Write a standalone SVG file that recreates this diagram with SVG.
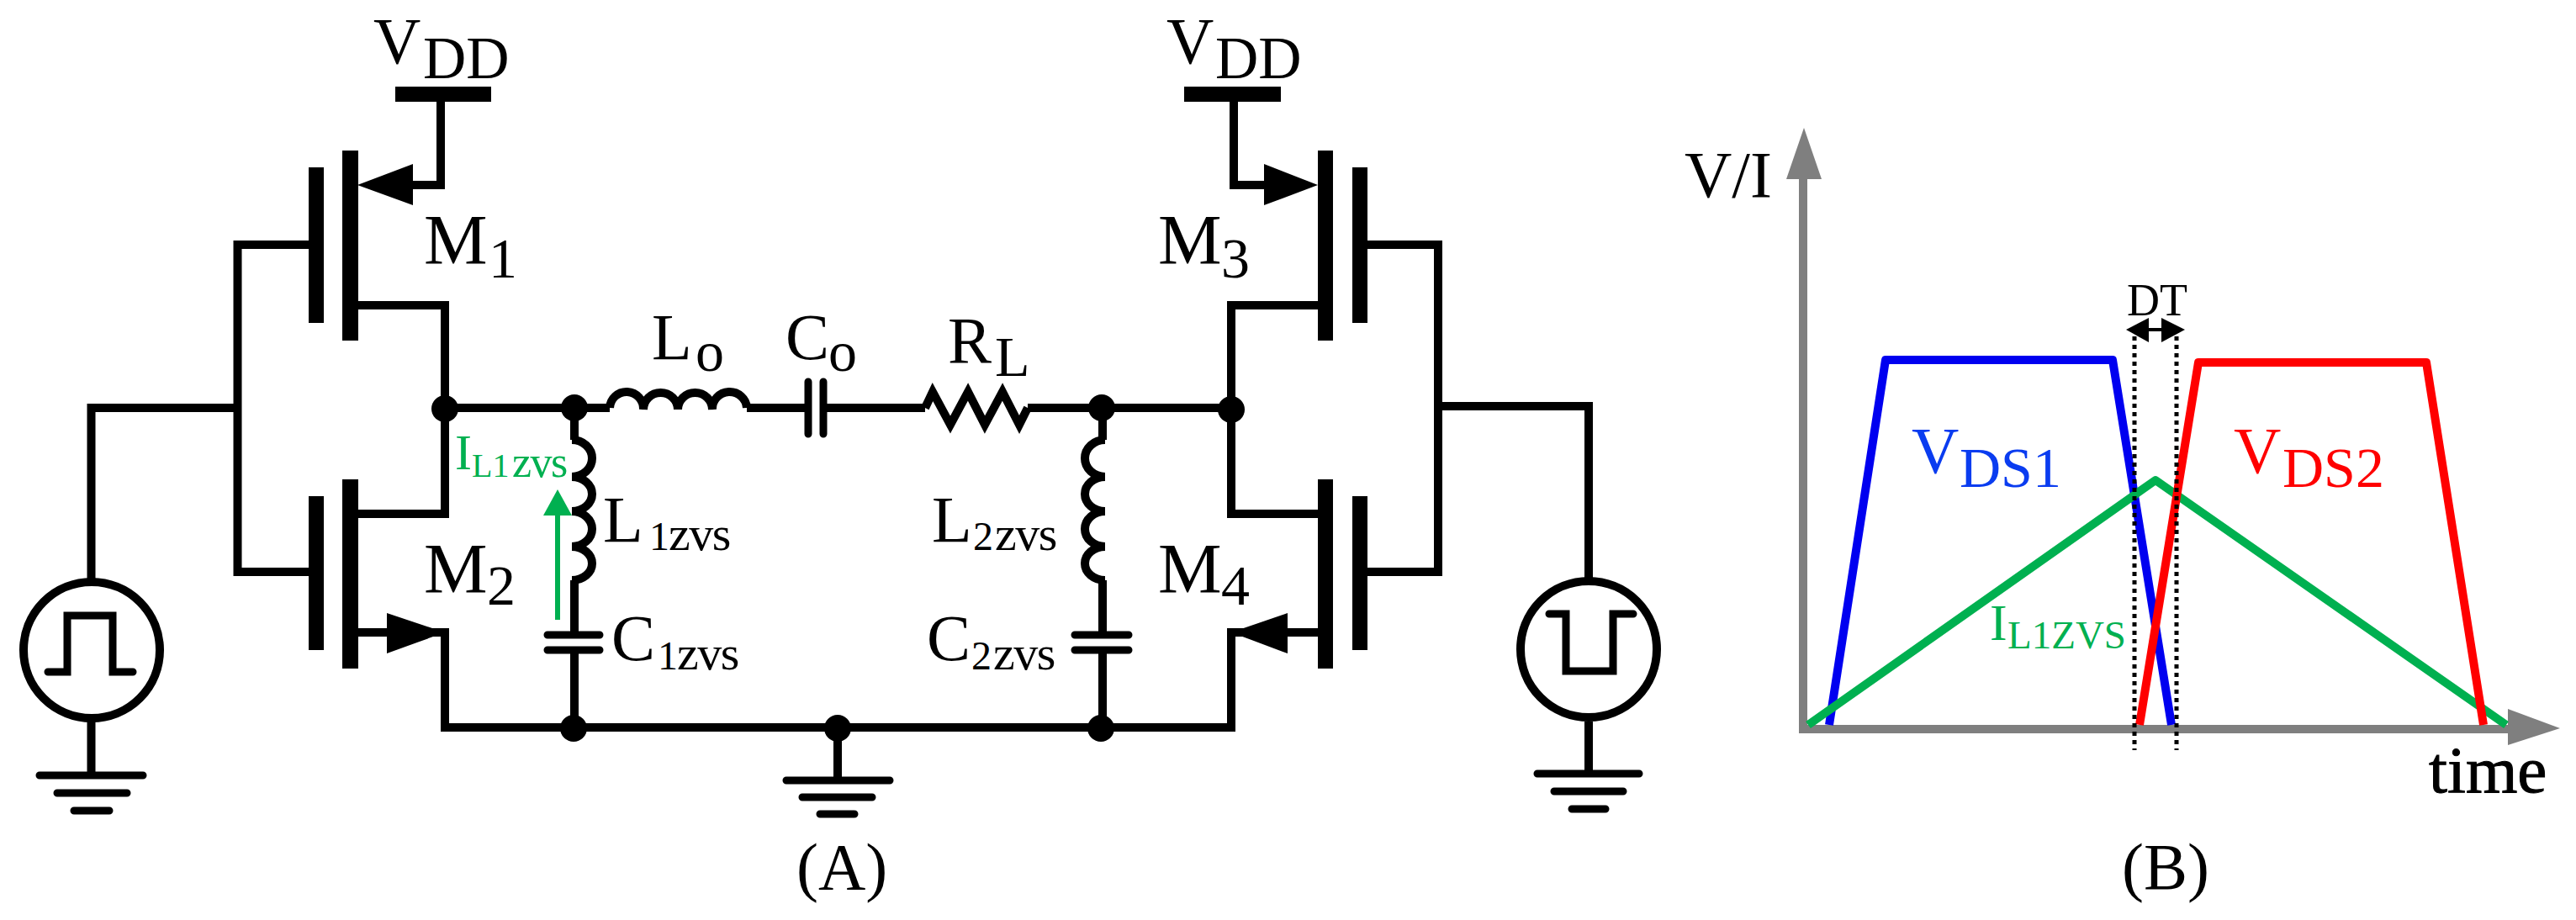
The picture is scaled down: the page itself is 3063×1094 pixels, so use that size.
<svg xmlns="http://www.w3.org/2000/svg" width="3063" height="1094" viewBox="0 0 3063 1094">
<style>
text{font-family:"Liberation Serif","Times New Roman",serif;fill:#000}
.w{fill:none;stroke:#000;stroke-width:10;stroke-linejoin:miter}
.g{fill:none;stroke:#000;stroke-width:9;stroke-linecap:round}
.c{fill:none;stroke:#000;stroke-width:9;stroke-linecap:round}
.k{fill:#000}
.t{font-size:78px}
.m{font-size:85px}
.s{font-size:68px}
.d{font-size:48px}
.z{font-size:58px;letter-spacing:-1.500px}
.gt{fill:#00b050}
.ax{fill:#7f7f7f}
.axl{fill:none;stroke:#7f7f7f;stroke-width:10}
.tr{fill:none;stroke-width:10;stroke-linejoin:round}
.dot{fill:none;stroke:#000;stroke-width:5;stroke-dasharray:5 5}
.gr{fill:#00b050}
</style>
<rect width="3063" height="1094" fill="#fff"/>
<g id="connectors">
<path class="w" d="M282.500 291H367M282.500 680H367M282.500 286V685M108.500 692V485H282.500"/>
<path class="w" d="M524 121V220H490"/>
<path class="w" d="M425 363H529V611H425"/>
<path class="w" d="M425 752H529V865H1464V752H1567"/>
<path class="w" d="M529 485H725"/>
<path class="w" d="M888 485H961M979 485H1100"/>
<path class="w" d="M1222 485H1464"/>
<path class="w" d="M683 485V523M683 690V755M683 773V865"/>
<path class="w" d="M1311 485V523M1311 690V755M1311 773V865"/>
<path class="w" d="M1567 363H1464V611H1567"/>
<path class="w" d="M1467 121V220H1503"/>
<path class="w" d="M1626 291H1710V685M1626 680H1710M1710 483H1889V691"/>
<path class="w" d="M108.500 858V922M996 865V928M1889 858V920"/>
</g>
<g id="M1">
<rect class="k" x="407" y="179" width="19" height="226"/><rect class="k" x="367" y="199" width="18" height="185"/>
<polygon class="k" points="425,220 491,195 491,244"/>
<text x="504" y="314" class="m">M<tspan x="581" y="330" class="s">1</tspan></text>
</g>
<g id="M2">
<rect class="k" x="407" y="570" width="19" height="225"/><rect class="k" x="367" y="590" width="18" height="183"/>
<polygon class="k" points="529,752 460,729 460,777"/>
<text x="504" y="705" class="m">M<tspan x="579" y="719" class="s">2</tspan></text>
</g>
<g id="M3">
<rect class="k" x="1567" y="179" width="18" height="226"/><rect class="k" x="1608" y="199" width="18" height="185"/>
<polygon class="k" points="1567,220 1503,195 1503,244"/>
<text x="1377" y="314" class="m">M<tspan x="1452" y="330" class="s">3</tspan></text>
</g>
<g id="M4">
<rect class="k" x="1567" y="570" width="18" height="225"/><rect class="k" x="1608" y="590" width="18" height="183"/>
<polygon class="k" points="1464,752 1531,729 1531,777"/>
<text x="1377" y="705" class="m">M<tspan x="1452" y="719" class="s">4</tspan></text>
</g>
<g id="VDD1">
<rect class="k" x="470" y="103" width="114" height="18"/>
<text x="444" y="75" class="t">V<tspan x="503" y="93" style="font-size:71px">DD</tspan></text>
</g>
<g id="VDD2">
<rect class="k" x="1408" y="103" width="115" height="18"/>
<text x="1387" y="75" class="t">V<tspan x="1445" y="93" style="font-size:71px">DD</tspan></text>
</g>
<g id="source1">
<circle class="w" cx="109" cy="773" r="81"/>
<path class="c" d="M57 799H80V732H134V799H158"/>
</g>
<g id="source2">
<circle class="w" cx="1889" cy="772" r="81"/>
<path class="c" d="M1842 730H1862V798H1918V730H1942"/>
</g>
<g id="gnd1"><path class="g" d="M47 922H170M68 943H151M88 964H130"/></g>
<g id="gnd2"><path class="g" d="M935 928H1058M954 948H1037M975 968H1016"/></g>
<g id="gnd3"><path class="g" d="M1828 920H1949M1848 941H1930M1869 962H1909"/></g>
<g id="Lo">
<path class="w" d="M725 485A20 20 0 0 1 765 487A20.500 20 0 0 1 806 487A20.500 20 0 0 1 847 487A20.500 20 0 0 1 888 485"/>
<text x="775" y="427" class="t">L<tspan x="827" y="441" class="s">o</tspan></text>
</g>
<g id="Co">
<path class="c" d="M961 454V516M979 454V516"/>
<text x="934" y="427" class="t">C<tspan x="985" y="441" class="s">o</tspan></text>
</g>
<g id="RL">
<path class="w" d="M1100 485L1109 466L1130 505L1151 466L1171 505L1192 466L1212 505L1222 485"/>
<text x="1127" y="431" class="t">R<tspan x="1183" y="447" class="s">L</tspan></text>
</g>
<g id="L1zvs">
<path class="w" d="M680 523A24 22 0 0 1 680 567A24 20.500 0 0 1 680 608A24 21 0 0 1 680 650A24 20 0 0 1 680 690"/>
<text x="717" y="644" class="t">L<tspan x="772" y="654" class="d">1</tspan><tspan x="795" y="654" class="z">zvs</tspan></text>
</g>
<g id="C1zvs">
<path class="c" d="M651 755H713M651 773H713"/>
<text x="727" y="785" class="t">C<tspan x="782" y="796" class="d">1</tspan><tspan x="805" y="796" class="z">zvs</tspan></text>
</g>
<g id="L2zvs">
<path class="w" d="M1314 523A24 22 0 0 0 1314 567A24 20.500 0 0 0 1314 608A24 21 0 0 0 1314 650A24 20 0 0 0 1314 690"/>
<text x="1108" y="644" class="t">L<tspan x="1157" y="654" class="d">2</tspan><tspan x="1183" y="654" class="z">zvs</tspan></text>
</g>
<g id="C2zvs">
<path class="c" d="M1278 755H1342M1278 773H1342"/>
<text x="1102" y="785" class="t">C<tspan x="1155" y="796" class="d">2</tspan><tspan x="1181" y="796" class="z">zvs</tspan></text>
</g>
<g id="IL1zvs">
<path fill="none" stroke="#00b050" stroke-width="6" d="M663 737V610"/>
<polygon class="gr" points="663,582 646,613 680,613"/>
<text x="541" y="558" font-size="60" class="gt">I<tspan x="561" y="567" font-size="40" class="gt">L1</tspan><tspan x="609" y="567" class="gt" style="font-size:52px;letter-spacing:-1.500px">zvs</tspan></text>
</g>
<g id="junctions">
<circle class="k" cx="529" cy="486" r="16"/><circle class="k" cx="683" cy="485" r="16"/><circle class="k" cx="1310" cy="485" r="16"/><circle class="k" cx="1464" cy="487" r="16"/>
<circle class="k" cx="682" cy="866" r="16"/><circle class="k" cx="996" cy="866" r="16"/><circle class="k" cx="1309" cy="866" r="16"/>
</g>
<text id="labelA" x="947" y="1057" class="t">(A)</text>
<g id="chart">
<path class="axl" d="M2144 205V867H2985"/>
<polygon class="ax" points="2145,152 2124,213 2166,213"/>
<polygon class="ax" points="3044,866 2982,843 2982,886"/>
<path class="tr" stroke="#0000f0" d="M2175 862L2242 428H2512L2582 862"/>
<path class="tr" stroke="#00b050" d="M2150 862L2563 571L2980 862"/>
<path class="tr" stroke="#ff0000" d="M2544 862L2614 431H2885L2953 862"/>
<path class="dot" d="M2538 400V892M2588 400V892"/>
<path fill="none" stroke="#000" stroke-width="4" d="M2550 392H2575"/>
<polygon class="k" points="2528,392 2555,378 2555,407"/>
<polygon class="k" points="2598,392 2570,378 2570,407"/>
<text x="2003" y="234" class="t">V/I</text>
<text x="2529" y="375" font-size="54">DT</text>
<text x="2888" y="942" font-size="79" stroke="#000" stroke-width="1">time</text>
<text x="2523" y="1057" class="t">(B)</text>
<text x="2273" y="562" class="t" style="fill:#0a3cf0">V<tspan x="2330" y="579" class="s" style="fill:#0a3cf0">DS1</tspan></text>
<text x="2656" y="562" class="t" style="fill:#f00">V<tspan x="2714" y="579" class="s" style="fill:#f00">DS2</tspan></text>
<text x="2366" y="761" font-size="62" class="gt">I<tspan x="2387" y="771" font-size="47" class="gt">L1ZVS</tspan></text>
</g>
</svg>
